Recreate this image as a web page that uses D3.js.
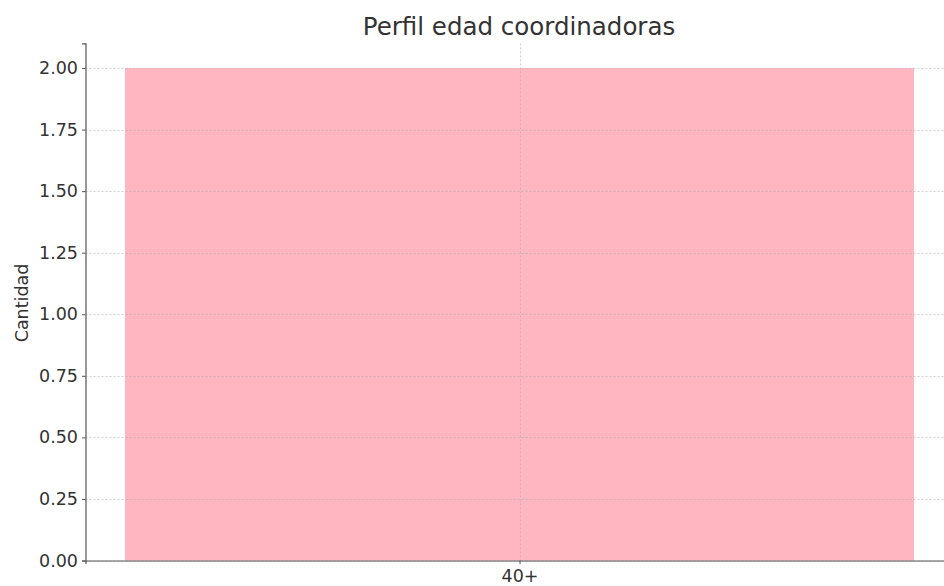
<!DOCTYPE html>
<html>
<head>
<meta charset="utf-8">
<title>Perfil edad coordinadoras</title>
<script src="https://cdnjs.cloudflare.com/ajax/libs/d3/7.8.5/d3.min.js"></script>
<style>
  body { margin: 0; background: #fff; }
  text { font-family: "DejaVu Sans", sans-serif; fill: #333; }
</style>
</head>
<body>
<script>
  // data
  var categories = ["40+"];
  var values = [2];
  var yTicks = [0, 0.25, 0.5, 0.75, 1.0, 1.25, 1.5, 1.75, 2.0];

  var width = 944, height = 586;
  var mLeft = 85.5, mTop = 43.4, mBottom = 560.5;
  var plotW = 868; // axes run past the right edge (tight crop)

  var svg = d3.select("body").append("svg")
    .attr("width", width)
    .attr("height", height);

  var x = d3.scaleLinear().domain([-0.44, 0.44]).range([mLeft, mLeft + plotW]);
  var y = d3.scaleLinear().domain([0, 2.1]).range([mBottom, mTop]);

  // bars
  svg.selectAll("rect.bar")
    .data(categories)
    .enter().append("rect")
    .attr("class", "bar")
    .attr("x", function (d, i) { return x(i - 0.4); })
    .attr("width", function (d, i) { return x(i + 0.4) - x(i - 0.4); })
    .attr("y", function (d, i) { return y(values[i]); })
    .attr("height", function (d, i) { return y(0) - y(values[i]); })
    .attr("fill", "#ffb6c1");

  // grid (drawn over bars)
  svg.append("g").selectAll("line")
    .data(yTicks)
    .enter().append("line")
    .attr("x1", mLeft).attr("x2", mLeft + plotW)
    .attr("y1", function (d) { return Math.round(y(d)) + 0.5; })
    .attr("y2", function (d) { return Math.round(y(d)) + 0.5; })
    .attr("stroke", "#b0b0b0").attr("stroke-opacity", 0.6)
    .attr("stroke-dasharray", "2,2");

  svg.append("g").selectAll("line")
    .data(categories)
    .enter().append("line")
    .attr("x1", function (d, i) { return Math.round(x(i)) + 0.5; })
    .attr("x2", function (d, i) { return Math.round(x(i)) + 0.5; })
    .attr("y1", mTop).attr("y2", mBottom)
    .attr("stroke", "#b0b0b0").attr("stroke-opacity", 0.6)
    .attr("stroke-dasharray", "2,2");

  // y axis
  var yAxis = d3.axisLeft(y).tickValues(yTicks)
    .tickFormat(d3.format(".2f")).tickSize(3.5).tickPadding(4);
  var gy = svg.append("g")
    .attr("transform", "translate(" + mLeft + ",0)")
    .call(yAxis);
  gy.select(".domain").attr("stroke", "#555").attr("stroke-width", 1.2);
  gy.selectAll(".tick line").attr("stroke", "#555");
  gy.selectAll(".tick text").style("font-size", "17.5px").attr("fill", "#333");

  // x axis
  var xAxis = d3.axisBottom(x).tickValues(categories.map(function (d, i) { return i; }))
    .tickFormat(function (d) { return categories[d]; }).tickSize(3.5).tickPadding(6);
  var gx = svg.append("g")
    .attr("transform", "translate(0," + mBottom + ")")
    .call(xAxis);
  gx.select(".domain").attr("stroke", "#555").attr("stroke-width", 1.2);
  gx.selectAll(".tick line").attr("stroke", "#555");
  gx.selectAll(".tick text").style("font-size", "17.5px").attr("fill", "#333");

  // title
  svg.append("text")
    .attr("x", 519).attr("y", 35)
    .attr("text-anchor", "middle")
    .style("font-size", "24.5px")
    .text("Perfil edad coordinadoras");

  // y label
  svg.append("text")
    .attr("transform", "translate(28,303) rotate(-90)")
    .attr("text-anchor", "middle")
    .style("font-size", "17.5px")
    .text("Cantidad");
</script>
</body>
</html>
